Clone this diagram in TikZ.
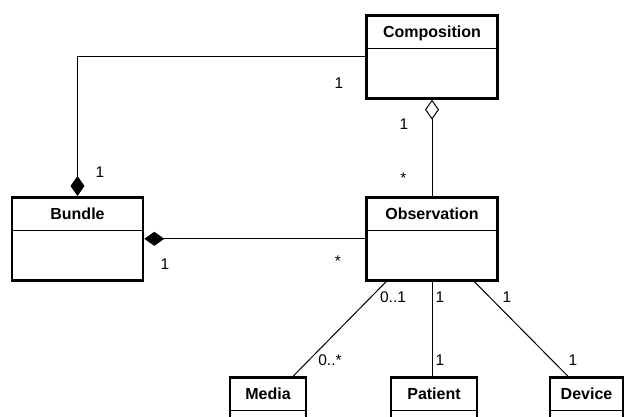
\documentclass[tikz,border=0pt]{standalone}
\usepackage{fontspec}
\setmainfont{Liberation Sans}
\usepackage{tikz}
\usetikzlibrary{arrows.meta,positioning}

\begin{document}
\begin{tikzpicture}[
    x=1pt, y=-1pt,
    umlclass/.style={draw, line width=2.6pt, anchor=north, minimum width=131pt, inner xsep=0pt, inner ysep=0pt,
        text height=22pt, text depth=61pt, font=\fontsize{16}{19}\selectfont\bfseries,
        path picture={\draw[line width=1pt] ([yshift=-33pt]path picture bounding box.north west) -- ([yshift=-33pt]path picture bounding box.north east);}},
    assoc/.style={draw, line width=1pt},
    mult/.style={font=\fontsize{15.5}{18}\selectfont, inner sep=0pt}
]
\useasboundingbox (0,0) rectangle (624,416);

\node[umlclass] (comp) at (432,14) {Composition};
\node[umlclass] (bundle) at (77.5,196) {Bundle};
\node[umlclass] (obs) at (432,196) {Observation};
\node[umlclass, minimum width=76pt] (media) at (268,376) {Media};
\node[umlclass, minimum width=86pt] (patient) at (434,376) {Patient};
\node[umlclass, minimum width=73pt] (device) at (586.5,376) {Device};

\draw[assoc, -{Diamond[length=20pt,width=14pt]}] (comp.west) -| (bundle.north);
\draw[assoc, {Diamond[open,length=20pt,width=14pt]}-] (comp.south) -- (obs.north);
\draw[assoc, {Diamond[length=20pt,width=14pt]}-] (bundle.east) -- (obs.west);
\draw[assoc] ([xshift=21pt]obs.south west) -- ([xshift=-14pt]media.north east);
\draw[assoc] (obs.south) -- (obs.south |- patient.north);
\draw[assoc] ([xshift=-24.5pt]obs.south east) -- ([xshift=19pt]device.north west);

% multiplicities
\node[mult] (m1) at (339,83) {1};
\node[mult] (m2) at (100,172) {1};
\node[mult] (m3) at (404,124.5) {1};
\node[mult] (m4) at (403.5,178) {*};
\node[mult] (m5) at (165,264.5) {1};
\node[mult] (m6) at (338,261) {*};
\node[mult] (m7) at (393,297) {0..1};
\node[mult] (m8) at (440,297) {1};
\node[mult] (m9) at (507,297) {1};
\node[mult] (m10) at (330,360) {0..*};
\node[mult] (m11) at (440,360) {1};
\node[mult] (m12) at (573,360) {1};

\end{tikzpicture}
\end{document}
